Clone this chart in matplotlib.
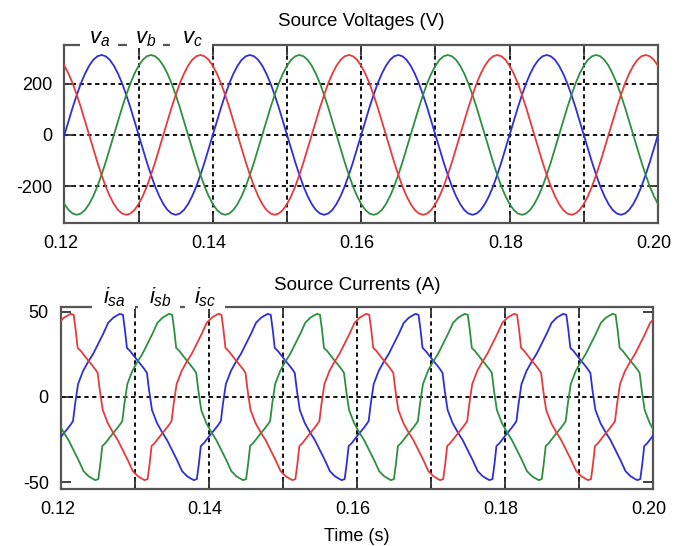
import numpy as np
import matplotlib.pyplot as plt
import matplotlib.transforms as mtransforms
from matplotlib.patches import Rectangle

plt.rcParams['font.family'] = ['Liberation Sans', 'DejaVu Sans']
plt.rcParams['mathtext.fontset'] = 'custom'
plt.rcParams['mathtext.it'] = 'Liberation Sans:italic'
plt.rcParams['mathtext.rm'] = 'Liberation Sans'
plt.rcParams['axes.unicode_minus'] = False

t_start = 0.12
period_ms = 20.0

# phase-a source voltage (V) over one cycle, sampled every 1/36 cycle from t = 0.12 s
va_cycle = [0, 54, 107, 156, 201, 239, 270, 293, 307, 312, 307, 293, 270, 239, 201, 156, 107, 54,
            0, -54, -107, -156, -201, -239, -270, -293, -307, -312, -307, -293, -270, -239, -201, -156, -107, -54]
va_t_ms = np.arange(len(va_cycle)) * period_ms / len(va_cycle)

# phase-c source current (A) over one cycle: ms after 0.12 s and value
isc_t_ms = [0.35, 0.76, 1.26, 1.67, 1.94, 2.21, 2.62, 3.16, 3.57, 4.25, 4.65, 4.92, 5.20, 5.60, 6.28,
            6.96, 7.64, 8.32, 9.00, 9.67, 10.35, 10.76,
            11.26, 11.67, 11.94, 12.21, 12.62, 13.16, 13.57, 14.25, 14.65, 14.92, 15.20, 15.60, 16.28,
            16.96, 17.64, 18.32, 19.00, 19.67]
isc_cycle = [46.5, 47.6, 48.8, 48.2, 39.4, 28.8, 27.1, 24.1, 21.8, 18.2, 15.9, 14.1, 4.1, -7.6, -15.3,
             -20.6, -25.3, -31.2, -37.1, -43.5, -46.5, -47.6,
             -48.8, -48.2, -39.4, -28.8, -27.1, -24.1, -21.8, -18.2, -15.9, -14.1, -4.1, 7.6, 15.3,
             20.6, 25.3, 31.2, 37.1, 43.5]

# phase lag of each phase, as fraction of a cycle
lag_a, lag_b, lag_c = 0.0, 1/3, 2/3

x_ticks = [0.12, 0.13, 0.14, 0.15, 0.16, 0.17, 0.18, 0.19, 0.20]
x_labels = ['0.12', '', '0.14', '', '0.16', '', '0.18', '', '0.20']
v_ticks = [-200, 0, 200]
i_ticks = [-50, 0, 50]

blue, green, red = '#2f2fd8', '#2f8f40', '#e63b3d'
grid_style = dict(color='#111111', linestyle=(0, (2.2, 1.8)), linewidth=1.4)


def repeat_cycle(t_ms, vals, shift_ms):
    t = np.asarray(t_ms) + shift_ms
    tt = np.concatenate([t + period_ms * k for k in range(-2, 6)])
    return t_start + tt / 1000, np.tile(vals, 8)


fig = plt.figure(figsize=(6.89, 5.46), dpi=100)
ax1 = fig.add_axes([0.0935, 0.5916, 0.8615, 0.3260])
ax2 = fig.add_axes([0.0890, 0.1044, 0.8581, 0.3339])

# voltages
for lag, col in [(lag_a, blue), (lag_b, green), (lag_c, red)]:
    t, v = repeat_cycle(va_t_ms, va_cycle, lag * period_ms)
    ax1.plot(t, v, color=col, lw=1.3, zorder=3)

# currents (isc given, isa and isb are shifted copies)
for lag, col in [(lag_a, blue), (lag_b, green), (lag_c, red)]:
    t, i = repeat_cycle(isc_t_ms, isc_cycle, (lag - lag_c) * period_ms)
    ax2.plot(t, i, color=col, lw=1.3, zorder=3)

ax1.set_ylim(-344, 351)
ax1.set_yticks(v_ticks)
ax1.grid(True, **grid_style)
ax2.set_ylim(-54, 53)
ax2.set_yticks(i_ticks)
ax2.grid(True, axis='x', **grid_style)
ax2.axhline(0, zorder=1, **grid_style)

shift_left = mtransforms.ScaledTranslation(-4 / 100, 0, fig.dpi_scale_trans)
for ax in (ax1, ax2):
    ax.set_xlim(0.12, 0.20)
    ax.set_xticks(x_ticks, x_labels)
    ax.set_axisbelow(True)
    ax.tick_params(direction='in', top=True, right=True, length=7, width=1.3,
                   color='#333333', labelsize=13, pad=9)
    for lab in ax.get_xticklabels():
        lab.set_transform(lab.get_transform() + shift_left)
    for s in ax.spines.values():
        s.set_color('#555555')
        s.set_linewidth(1.6)

ax1.set_title('Source Voltages (V)', fontsize=13.5, pad=14)
ax2.set_title('Source Currents (A)', fontsize=13.5, pad=12)
ax2.set_xlabel('Time (s)', fontsize=13, labelpad=7)

# series labels sitting on the top border
def top_labels(ax, labels, xs, boxes, y_text, y_box):
    for (x0, x1) in boxes:
        ax.add_patch(Rectangle((x0, y_box[0]), x1 - x0, y_box[1] - y_box[0], transform=ax.transAxes,
                               facecolor='white', edgecolor='none', clip_on=False, zorder=4))
    for lab, x in zip(labels, xs):
        ax.text(x, y_text, lab, transform=ax.transAxes, ha='center', va='baseline',
                fontsize=16, zorder=5)

top_labels(ax1, [r'$v_a$', r'$v_b$', r'$v_c$'], [0.060, 0.1375, 0.215],
           [(0.0263, 0.0903), (0.1055, 0.1661), (0.1779, 0.2487)], 1.011, (0.983, 1.08))
top_labels(ax2, [r'$i_{sa}$', r'$i_{sb}$', r'$i_{sc}$'], [0.0891, 0.167, 0.243],
           [(0.0519, 0.1247), (0.1297, 0.2008), (0.2092, 0.2769)], 1.020, (0.988, 1.09))

fig.savefig('out.png', dpi=100, facecolor='white')
